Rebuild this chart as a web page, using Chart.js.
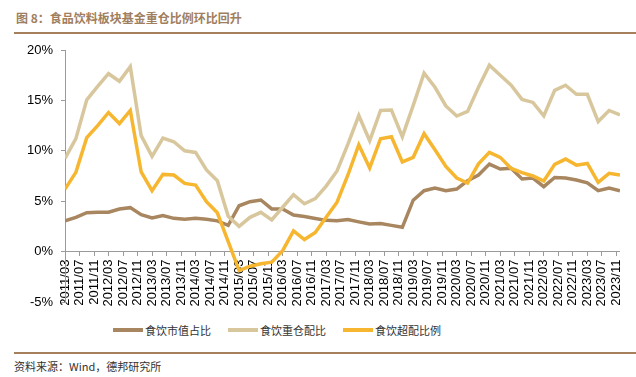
<!DOCTYPE html>
<html>
<head>
<meta charset="utf-8">
<script src="https://cdn.jsdelivr.net/npm/chart.js@4.4.1/dist/chart.umd.min.js"></script>
<style>
  html, body { margin: 0; padding: 0; background: #fff; }
  #wrap { position: relative; width: 636px; height: 377px; overflow: hidden; font-family: "Noto Sans CJK SC", sans-serif; }
  #title { position: absolute; left: 16px; top: 9px; font-size: 12px; font-weight: bold; color: #a07e5e; white-space: nowrap; }
  .rule { position: absolute; left: 14px; right: 0; height: 2px; background: #a67f5c; }
  #chartBox { position: absolute; left: 0; top: 0; width: 636px; height: 320px; }
  #legend { position: absolute; top: 322px; left: 113px; display: flex; align-items: center; font-size: 11px; color: #333; white-space: nowrap; }
  .item { display: flex; align-items: center; margin-right: 17px; }
  .swatch { width: 30px; height: 4px; margin-right: 2px; }
  #source { position: absolute; left: 14px; top: 358px; font-size: 11px; color: #333; white-space: nowrap; }
</style>
</head>
<body>
<div id="wrap">
  <div id="title">图 8：食品饮料板块基金重仓比例环比回升</div>
  <div class="rule" style="top:32px"></div>
  <div id="chartBox"><canvas id="chart" width="636" height="320"></canvas></div>
  <div id="legend"></div>
  <div class="rule" style="top:352px"></div>
  <div id="source">资料来源：Wind，德邦研究所</div>
</div>
<script>
// ---- data (quarter-end, 2011Q1 .. 2023Q4), in % ----
const years = [2011, 2012, 2013, 2014, 2015, 2016, 2017, 2018, 2019, 2020, 2021, 2022, 2023];
const quarterMonths = ['03', '06', '09', '12'];
const tickMonths = ['03', '07', '11'];

const seriesNames = ['食饮市值占比', '食饮重仓配比', '食饮超配比例'];
const seriesColors = ['#a8865f', '#d8c79d', '#f6b630'];

const marketShare = [
    3.04, 3.4, 3.86, 3.9, 3.9, 4.23, 4.36, 3.66, 3.34, 3.57, 3.3, 3.2, 3.3,
    3.2, 3.05, 2.6, 4.55, 4.95, 5.12, 4.23, 4.23, 3.62, 3.48, 3.28, 3.1, 3.07,
    3.18, 2.95, 2.74, 2.78, 2.6, 2.41, 5.1, 6.04, 6.3, 6.04, 6.2, 7.03, 7.6,
    8.68, 8.19, 8.26, 7.2, 7.3, 6.44, 7.36, 7.3, 7.1, 6.83, 6.04, 6.3, 6.04
];
const heavyHolding = [
    9.25, 11.2, 15.05, 16.4, 17.65, 16.9, 18.35, 11.5, 9.45, 11.26, 10.9, 10.0, 9.84,
    8.1, 7.03, 3.5, 2.5, 3.4, 3.9, 3.14, 4.4, 5.65, 4.75, 5.25, 6.5, 8.0,
    10.66, 13.5, 11.0, 14.0, 14.05, 11.4, 14.5, 17.7, 16.3, 14.45, 13.45, 13.9, 16.3,
    18.5, 17.5, 16.5, 15.1, 14.8, 13.47, 16.0, 16.5, 15.6, 15.6, 12.9, 14.0, 13.56
];
const overweight = [
    6.2, 7.86, 11.3, 12.5, 13.8, 12.7, 14.0, 7.9, 6.04, 7.66, 7.6, 6.77, 6.6,
    4.95, 3.85, 1.0, -1.88, -1.45, -1.2, -1.05, 0.1, 2.05, 1.2, 1.9, 3.4, 4.9,
    7.6, 10.6, 8.3, 11.2, 11.4, 8.9, 9.35, 11.7, 10.1, 8.45, 7.3, 6.8, 8.7,
    9.84, 9.35, 8.25, 7.83, 7.5, 7.0, 8.65, 9.18, 8.58, 8.75, 6.87, 7.76, 7.6
];

const yTicks = [-5, 0, 5, 10, 15, 20];

// ---- helpers ----
// months counted from 2011/03
function monthIndex(label) {
    const [y, m] = label.split('/').map(Number);
    return (y - years[0]) * 12 + (m - 3);
}

const dates = [];
years.forEach(y => quarterMonths.forEach(m => dates.push(y + '/' + m)));
const tickLabels = [];
years.forEach(y => tickMonths.forEach(m => tickLabels.push(y + '/' + m)));
const tickMap = {};
tickLabels.forEach(t => { tickMap[monthIndex(t)] = t; });

function points(values) {
    return values.map((v, i) => ({ x: monthIndex(dates[i]), y: v }));
}

// ---- legend ----
const legend = document.getElementById('legend');
seriesNames.forEach((name, i) => {
    legend.innerHTML += `<div class="item"><span class="swatch" style="background:${seriesColors[i]}"></span><span>${name}</span></div>`;
});

// ---- chart ----
const axisGrey = '#9a9a9a';
const tickFont = { family: '"Liberation Sans", Arial, sans-serif', size: 13 };

new Chart(document.getElementById('chart').getContext('2d'), {
    type: 'line',
    data: {
        datasets: [marketShare, heavyHolding, overweight].map((vals, i) => ({
            label: seriesNames[i],
            data: points(vals),
            borderColor: seriesColors[i],
            backgroundColor: seriesColors[i],
            borderWidth: 3.5,
            pointRadius: 0,
            tension: 0,
            fill: false,
            order: 3 - i
        }))
    },
    options: {
        responsive: false,
        animation: false,
        devicePixelRatio: 1,
        layout: { padding: { top: 50, left: 0, right: 10, bottom: 18 } },
        plugins: { legend: { display: false }, tooltip: { enabled: false } },
        scales: {
            x: {
                type: 'linear',
                position: { y: 0 },
                min: 0,
                max: monthIndex('2023/12'),
                afterFit: s => { s.height = 0; },
                afterBuildTicks: s => { s.ticks = Object.keys(tickMap).map(v => ({ value: Number(v) })); },
                grid: { display: true, drawOnChartArea: false, drawTicks: true, tickLength: 4, color: axisGrey },
                border: { color: axisGrey, width: 1 },
                ticks: {
                    autoSkip: false,
                    minRotation: 90,
                    maxRotation: 90,
                    padding: 4,
                    color: '#000',
                    font: tickFont,
                    callback: v => tickMap[v] || ''
                }
            },
            y: {
                min: -5,
                max: 20,
                afterFit: s => { s.width = 65; },
                afterBuildTicks: s => { s.ticks = yTicks.map(v => ({ value: v })); },
                grid: { display: true, drawOnChartArea: false, drawTicks: true, tickLength: 4, color: axisGrey },
                border: { color: axisGrey, width: 1 },
                ticks: { padding: 8, color: '#000', font: tickFont, callback: v => v + '%' }
            }
        }
    }
});
</script>
</body>
</html>
